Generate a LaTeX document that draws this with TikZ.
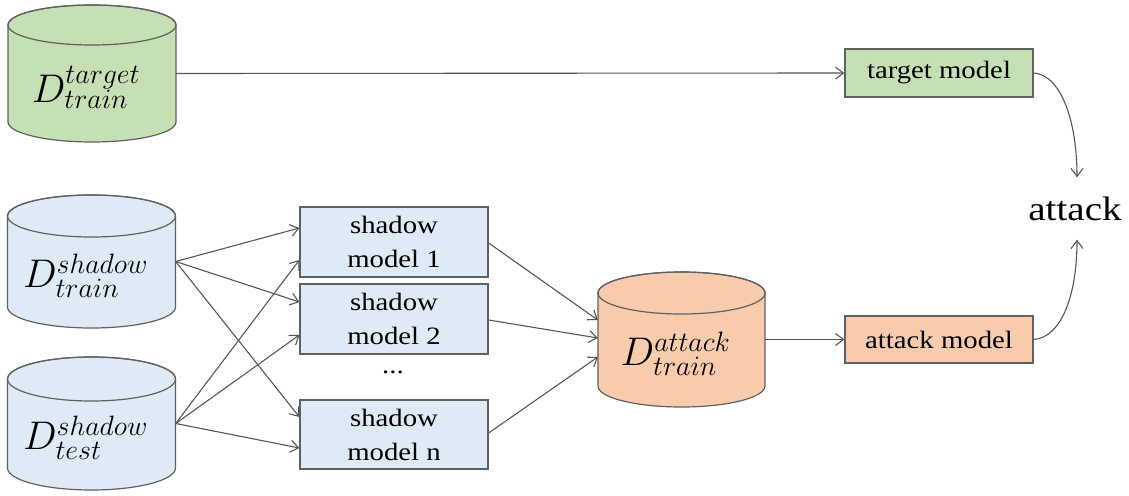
\documentclass[tikz,border=0pt]{standalone}
\usepackage{fix-cm}
\usepackage{fontspec}
\setmainfont{Liberation Serif}[FakeStretch=1.15]
\usetikzlibrary{arrows.meta}
\definecolor{lc}{HTML}{555555}
\definecolor{bc}{HTML}{606060}
\definecolor{gfill}{HTML}{C5E0B4}
\definecolor{bfill}{HTML}{DEEBF7}
\definecolor{ofill}{HTML}{F8CBAD}
\newcommand{\drawcyl}[6]{%
  \filldraw[cylline, fill=#6] (#1-#4,-#2) -- (#1-#4,-#3)
    arc[start angle=180, end angle=360, x radius=#4, y radius=#5]
    -- (#1+#4,-#2)
    arc[start angle=0, end angle=180, x radius=#4, y radius=#5] -- cycle;
  \draw[cylline] (#1,-#2) ellipse[x radius=#4, y radius=#5];
}
\tikzset{
  cylline/.style={draw=bc, line width=1.2pt},
  cylnode/.style={rectangle, inner sep=0pt, minimum width=168pt},
  cyllabel/.style={font=\fontsize{40}{40}\selectfont, xshift=-6pt, yshift=-14pt},
  box/.style={draw=bc, line width=1.2pt, minimum width=188pt, align=center,
    inner sep=0pt, font=\fontsize{25}{34}\selectfont},
  conn/.style={draw=lc, line width=1.1pt, -{Straight Barb[length=8pt,width=12pt]}},
}
\begin{document}
\begin{tikzpicture}[x=1pt, y=1pt]
\useasboundingbox (0,0) rectangle (1129,-495);

% cylinders
\drawcyl{92}{25}{122}{84}{20}{gfill}
\drawcyl{91.5}{216}{307}{84}{21}{bfill}
\drawcyl{91.5}{379}{468}{84}{22}{bfill}
\drawcyl{681.5}{293}{386}{83.5}{21}{ofill}

\node[cylnode, minimum height=97pt,
  label={[cyllabel]center:$D^{target}_{train}$}] (tgt) at (92,-73.5) {};
\node[cylnode, minimum height=91pt,
  label={[cyllabel]center:$D^{shadow}_{train}$}] (shtr) at (91.5,-261.5) {};
\node[cylnode, minimum height=89pt,
  label={[cyllabel]center:$D^{shadow}_{test}$}] (shte) at (91.5,-423.5) {};
\node[cylnode, minimum width=167pt, minimum height=93pt,
  label={[cyllabel]center:$D^{attack}_{train}$}] (att) at (681.5,-339.5) {};

% boxes
\node[box, fill=gfill, minimum height=48pt] (tm) at (939,-73) {target model};
\node[box, fill=ofill, minimum height=47pt] (am) at (939,-339.5) {attack model};
\node[box, fill=bfill, minimum height=70pt] (s1) at (394,-242) {shadow\\model 1};
\node[box, fill=bfill, minimum height=70pt] (s2) at (394,-319) {shadow\\model 2};
\node[box, fill=bfill, minimum height=69pt] (sn) at (394,-434.5) {shadow\\model n};
\node[font=\fontsize{25}{30}\selectfont, inner sep=0pt] (dots) at (393,-372) {...};

\node[font=\fontsize{34}{34}\selectfont, inner xsep=0pt, inner ysep=19pt] (atk) at (1075,-208.5) {attack};

% connectors
\draw[conn] (tgt.east) -- (tm.west);
\draw[conn] (shtr.east) -- ([yshift=14pt]s1.west);
\draw[conn] (shtr.east) -- ([yshift=17pt]s2.west);
\draw[conn] (shtr.east) -- ([yshift=17.5pt]sn.west);
\draw[conn] (shte.east) -- ([yshift=-18pt]s1.west);
\draw[conn] (shte.east) -- ([yshift=-16pt]s2.west);
\draw[conn] (shte.east) -- ([yshift=-13.5pt]sn.west);
\draw[conn] ([yshift=-1pt]s1.east) -- ([yshift=19.5pt]att.west);
\draw[conn] ([yshift=-1pt]s2.east) -- ([yshift=1.5pt]att.west);
\draw[conn] ([yshift=1.5pt]sn.east) -- ([yshift=-17.5pt]att.west);
\draw[conn] (att.east) -- (am.west);
\draw[conn] (tm.east) .. controls +(28,-2) and +(0,55) .. ([xshift=2pt]atk.north);
\draw[conn] (am.east) .. controls +(28,2) and +(0,-55) .. ([xshift=2pt]atk.south);
\end{tikzpicture}
\end{document}
